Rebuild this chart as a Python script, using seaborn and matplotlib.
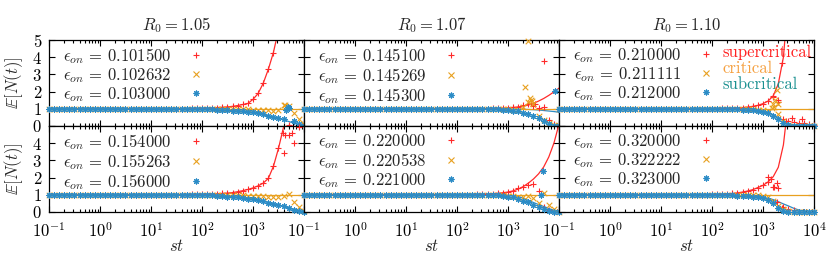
import numpy as np
import pandas as pd
import matplotlib
matplotlib.use("Agg")
import matplotlib.pyplot as plt
import seaborn as sns
from matplotlib.lines import Line2D
from matplotlib.ticker import FixedLocator, LogLocator, NullFormatter, FixedFormatter

nan = np.nan

# ---------------- data ----------------
TIME = [0.1, 0.126, 0.158, 0.2, 0.251, 0.316, 0.398, 0.501, 0.631, 0.794,
        1.0, 1.26, 1.58, 2.0, 2.51, 3.16, 3.98, 5.01, 6.31, 7.94,
        10.0, 12.6, 15.8, 20.0, 25.1, 31.6, 39.8, 50.1, 63.1, 79.4,
        100, 126, 158, 200, 251, 316, 398, 501, 631, 794,
        1000, 1259, 1585, 1995, 2512, 3162, 3981, 5012, 6310, 7943,
        10000]

R0_VALUES = ["1.05", "1.07", "1.10"]
EPS_TOP = [["0.101500", "0.102632", "0.103000"],
           ["0.145100", "0.145269", "0.145300"],
           ["0.210000", "0.211111", "0.212000"]]
EPS_BOTTOM = [["0.154000", "0.155263", "0.156000"],
              ["0.220000", "0.220538", "0.221000"],
              ["0.320000", "0.322222", "0.323000"]]
REGIME_LABELS = ["supercritical", "critical", "subcritical"]
XTICKS = [0.1, 1, 10, 100, 1000, 10000]
XTICK_LABELS = ["$10^{-1}$", "$10^{0}$", "$10^{1}$", "$10^{2}$", "$10^{3}$", "$10^{4}$"]
YTICKS = [0, 1, 2, 3, 4, 5]
YTICK_LABELS = ["$0$", "$1$", "$2$", "$3$", "$4$", "$5$"]

CRIT_FIT_T = [0.1, 10000]
CRIT_FIT_V = [1.0, 1.0]

# Panel A: R0=1.05, top
A_SUP = [1, 1, 1, 1, 1, 1, 1, 1, 1, 1,  1, 1, 1, 1, 1, 1, 1, 1, 1, 1,
         1, 1, 1, 1, 1, 1.0, 1.01, 1.01, 1.02, 1.02,
         1.03, 1.04, 1.05, 1.07, 1.09, 1.11, 1.14, 1.19, 1.25, 1.31,
         1.55, 1.89, 2.48, 3.29, 4.27, nan, nan, 0.05, nan, nan, nan]
A_SUP_FIT = [1, 1, 1, 1, 1, 1, 1, 1, 1, 1,  1, 1, 1, 1, 1, 1, 1, 1, 1, 1,
             1, 1, 1, 1, 1, 1.0, 1.01, 1.01, 1.02, 1.02,
             1.03, 1.04, 1.05, 1.07, 1.09, 1.11, 1.14, 1.19, 1.25, 1.31,
             1.55, 1.89, 2.48, 3.29, 4.27, 5.6, 7.5, nan, nan, nan, nan]
A_CRI = [1, 1, 1, 1, 1, 1, 1, 1, 1, 1,  1, 1, 1, 1, 1, 1, 1, 1, 1, 1,
         1, 1, 1, 1, 1, 1, 1, 1, 1, 1,
         1, 1, 1, 1, 1, 0.99, 0.99, 0.98, 0.97, 0.96,
         0.95, 0.94, 0.93, 0.91, 0.9, 0.92, 1.2, 1.15, 0.75, 0.4, 0.1]
A_SUB = [1, 1, 1, 1, 1, 1, 1, 1, 1, 1,  1, 1, 1, 1, 1, 1, 1, 1, 1, 1,
         1, 1, 1, 1, 1, 1.0, 0.995, 0.99, 0.99, 0.985,
         0.98, 0.97, 0.96, 0.95, 0.94, 0.92, 0.9, 0.88, 0.86, 0.83,
         0.8, 0.75, 0.68, 0.6, 0.52, 0.45, 0.38, 1.05, 0.3, 0.12, 0.02]
A_SUB_FIT = [1, 1, 1, 1, 1, 1, 1, 1, 1, 1,  1, 1, 1, 1, 1, 1, 1, 1, 1, 1,
             1, 1, 1, 1, 1, 1.0, 0.995, 0.99, 0.99, 0.985,
             0.974, 0.967, 0.96, 0.95, 0.94, 0.92, 0.9, 0.88, 0.85, 0.82,
             0.77, 0.72, 0.66, 0.59, 0.52, 0.45, 0.36, 0.26, 0.17, 0.08, 0.02]
A_CRI_EXTRA_T = [4169, 4571]
A_CRI_EXTRA_V = [1.22, 1.1]
A_SUB_EXTRA_T = [4786, 4365]
A_SUB_EXTRA_V = [1.1, 0.95]

# Panel B: R0=1.07, top
B_SUP = [1, 1, 1, 1, 1, 1, 1, 1, 1, 1,  1, 1, 1, 1, 1, 1, 1, 1, 1, 1,
         1, 1, 1, 1, 1, 1, 1, 1, 1, 1,
         1, 1, 1, 1, 1, 1.0, 1.01, 1.02, 1.03, 1.04,
         1.06, 1.08, 1.12, 1.2, 1.3, 1.15, 1.05, 1.1, 0.37, 0.1, 0.05]
B_SUP_FIT = [1, 1, 1, 1, 1, 1, 1, 1, 1, 1,  1, 1, 1, 1, 1, 1, 1, 1, 1, 1,
             1, 1, 1, 1, 1, 1, 1, 1, 1, 1,
             1, 1, 1, 1, 1, 1.01, 1.015, 1.02, 1.03, 1.04,
             1.06, 1.08, 1.11, 1.15, 1.22, 1.32, 1.45, 1.6, 1.78, 1.98, 2.2]
B_CRI = [1, 1, 1, 1, 1, 1, 1, 1, 1, 1,  1, 1, 1, 1, 1, 1, 1, 1, 1, 1,
         1, 1, 1, 1, 1, 1, 1, 1, 1, 1,
         1, 1, 1, 1, 1, 1, 1, 0.99, 0.98, 0.97,
         0.96, 0.95, 0.93, 1.1, 1.4, 1.3, 0.6, 0.35, 0.15, 0.05, 0.0]
B_SUB = [1, 1, 1, 1, 1, 1, 1, 1, 1, 1,  1, 1, 1, 1, 1, 1, 1, 1, 1, 1,
         1, 1, 1, 1, 1, 1, 1, 1, 1, 1,
         1, 1, 1, 1, 1, 1, 1, 0.99, 0.97, 0.95,
         0.93, 0.9, 0.85, 0.78, 0.7, 0.6, 0.45, 0.3, 0.12, 0.02, 0.0]
B_SUB_FIT = [1, 1, 1, 1, 1, 1, 1, 1, 1, 1,  1, 1, 1, 1, 1, 1, 1, 1, 1, 1,
             1, 1, 1, 1, 1, 1, 1, 1, 1, 1,
             1, 1, 1, 1, 1, 1, 1, 1, 0.995, 0.993,
             0.99, 0.985, 0.98, 0.97, 0.96, 0.95, 0.93, 0.9, 0.87, 0.84, 0.8]
B_SUP_EXTRA_T = [5129, 2818, 3311]
B_SUP_EXTRA_V = [3.76, 1.35, 1.25]
B_CRI_EXTRA_T = [2512, 2138, 2692, 2884, 3020]
B_CRI_EXTRA_V = [4.96, 2.25, 1.63, 1.5, 1.45]
B_SUB_EXTRA_T = [8318]
B_SUB_EXTRA_V = [2.05]

# Panel C: R0=1.10, top
C_SUP = [1, 1, 1, 1, 1, 1, 1, 1, 1, 1,  1, 1, 1, 1, 1, 1, 1, 1, 1, 1,
         1, 1, 1, 1, 1, 1, 1, 1, 1.005, 1.01,
         1.01, 1.01, 1.02, 1.03, 1.04, 1.05, 1.07, 1.1, 1.14, 1.2,
         1.3, 1.45, 1.7, 1.5, 0.4, 0.3, 0.25, 0.2, 0.15, 0.1, 0.05]
C_SUP_FIT = [1, 1, 1, 1, 1, 1, 1, 1, 1, 1,  1, 1, 1, 1, 1, 1, 1, 1, 1, 1,
             1, 1, 1, 1, 1, 1, 1, 1, 1.005, 1.01,
             1.01, 1.015, 1.02, 1.03, 1.04, 1.05, 1.07, 1.1, 1.14, 1.2,
             1.3, 1.45, 1.75, 2.45, 4.0, 7.5, nan, nan, nan, nan, nan]
C_CRI = [1, 1, 1, 1, 1, 1, 1, 1, 1, 1,  1, 1, 1, 1, 1, 1, 1, 1, 1, 1,
         1, 1, 1, 1, 1, 1, 1, 1, 1, 1,
         1, 1, 1, 1, 1, 1, 0.99, 0.98, 0.96, 0.94,
         0.92, 0.9, 1.25, 0.7, 0.3, 0.08, 0.0, 0.0, 0.0, 0.0, 0.0]
C_SUB = [1, 1, 1, 1, 1, 1, 1, 1, 1, 1,  1, 1, 1, 1, 1, 1, 1, 1, 1, 1,
         1, 1, 1, 1, 1, 1, 1, 1, 1, 0.995,
         0.99, 0.985, 0.98, 0.975, 0.97, 0.96, 0.95, 0.93, 0.91, 0.88,
         0.84, 0.75, 0.6, 0.38, 0.15, 0.04, 0.0, 0.0, 0.0, 0.0, 0.0]
C_SUB_FIT = [1, 1, 1, 1, 1, 1, 1, 1, 1, 1,  1, 1, 1, 1, 1, 1, 1, 1, 1, 1,
             1, 1, 1, 1, 1, 1, 1, 1, 1, 0.995,
             0.99, 0.985, 0.98, 0.975, 0.97, 0.96, 0.95, 0.93, 0.91, 0.89,
             0.86, 0.78, 0.66, 0.5, 0.3, 0.15, 0.05, 0.0, 0.0, 0.0, 0.0]
C_SUP_EXTRA_T = [2399, 1585, 1995, 2884, 3715, 5754]
C_SUP_EXTRA_V = [3.66, 1.72, 1.4, 0.27, 0.47, 0.4]
C_CRI_EXTRA_T = [1862, 1738, 1950, 1660, 1513]
C_CRI_EXTRA_V = [2.1, 1.5, 1.25, 1.1, 1.05]

# Panel D: R0=1.05, bottom
D_SUP = [1, 1, 1, 1, 1, 1, 1, 1, 1, 1,  1, 1, 1, 1, 1, 1, 1, 1, 1, 1,
         1, 1, 1, 1, 1, 1, 1.01, 1.01, 1.02, 1.02,
         1.03, 1.04, 1.05, 1.06, 1.08, 1.1, 1.13, 1.18, 1.24, 1.31,
         1.4, 1.52, 1.68, 1.95, 2.65, 3.7, 3.41, 4.5, 4.0, 4.95, nan]
D_SUP_FIT = [1, 1, 1, 1, 1, 1, 1, 1, 1, 1,  1, 1, 1, 1, 1, 1, 1, 1, 1, 1,
             1, 1, 1, 1, 1, 1, 1.01, 1.01, 1.02, 1.02,
             1.03, 1.04, 1.05, 1.06, 1.08, 1.1, 1.13, 1.18, 1.24, 1.31,
             1.4, 1.52, 1.68, 1.95, 2.65, 3.7, 4.95, 7.0, nan, nan, nan]
D_CRI = [1, 1, 1, 1, 1, 1, 1, 1, 1, 1,  1, 1, 1, 1, 1, 1, 1, 1, 1, 1,
         1, 1, 1, 1, 1, 1, 1, 1, 1, 1,
         1, 1, 1, 1, 1, 0.99, 0.98, 0.97, 0.96, 0.95,
         0.94, 0.93, 0.92, 0.9, 0.88, 0.85, 0.95, 1.05, 0.6, 0.3, 0.05]
D_SUB = [1, 1, 1, 1, 1, 1, 1, 1, 1, 1,  1, 1, 1, 1, 1, 1, 1, 1, 1, 1,
         1, 1, 1, 1, 1, 1, 1, 0.995, 0.99, 0.99,
         0.98, 0.97, 0.96, 0.94, 0.92, 0.9, 0.88, 0.85, 0.81, 0.77,
         0.73, 0.68, 0.62, 0.55, 0.47, 0.4, 0.33, 0.22, 0.1, 0.03, 0.0]
D_SUB_FIT = [1, 1, 1, 1, 1, 1, 1, 1, 1, 1,  1, 1, 1, 1, 1, 1, 1, 1, 1, 1,
             1, 1, 1, 1, 1, 1, 1, 0.995, 0.99, 0.99,
             0.98, 0.975, 0.965, 0.95, 0.93, 0.91, 0.89, 0.86, 0.82, 0.78,
             0.74, 0.69, 0.63, 0.56, 0.49, 0.41, 0.33, 0.24, 0.15, 0.07, 0.02]
D_SUP_EXTRA_T = [4266, 5754, 3890]
D_SUP_EXTRA_V = [4.48, 4.58, 4.6]

# Panel E: R0=1.07, bottom
E_SUP = [1, 1, 1, 1, 1, 1, 1, 1, 1, 1,  1, 1, 1, 1, 1, 1, 1, 1, 1, 1,
         1, 1, 1, 1, 1, 1, 1, 1, 1, 1,
         1, 1, 1, 1.01, 1.02, 1.03, 1.04, 1.05, 1.08, 1.1,
         1.15, 1.25, 1.4, 1.44, 1.55, 1.6, 1.2, 0.3, 0.1, 0.0, 0.0]
E_SUP_FIT = [1, 1, 1, 1, 1, 1, 1, 1, 1, 1,  1, 1, 1, 1, 1, 1, 1, 1, 1, 1,
             1, 1, 1, 1, 1, 1, 1, 1, 1, 1,
             1.01, 1.01, 1.02, 1.02, 1.03, 1.04, 1.05, 1.07, 1.09, 1.12,
             1.16, 1.23, 1.33, 1.48, 1.68, 1.92, 2.22, 2.62, 3.2, 4.0, 5.1]
E_CRI = [1, 1, 1, 1, 1, 1, 1, 1, 1, 1,  1, 1, 1, 1, 1, 1, 1, 1, 1, 1,
         1, 1, 1, 1, 1, 1, 1, 1, 1, 1,
         1, 1, 1, 1, 1, 1, 0.99, 0.99, 0.98, 0.97,
         0.95, 0.93, 0.9, 0.85, 0.95, 0.8, 0.55, 1.1, 0.4, 0.15, 0.0]
E_SUB = [1, 1, 1, 1, 1, 1, 1, 1, 1, 1,  1, 1, 1, 1, 1, 1, 1, 1, 1, 1,
         1, 1, 1, 1, 1, 1, 1, 1, 1, 1,
         1, 1, 1, 1, 0.995, 0.99, 0.985, 0.98, 0.96, 0.94,
         0.9, 0.85, 0.75, 0.64, 0.56, 0.4, 0.27, 0.15, 0.05, 0.0, 0.0]
E_SUB_FIT = [1, 1, 1, 1, 1, 1, 1, 1, 1, 1,  1, 1, 1, 1, 1, 1, 1, 1, 1, 1,
             1, 1, 1, 1, 1, 1, 1, 1, 1, 1,
             1, 1, 1, 1, 1, 0.995, 0.99, 0.985, 0.98, 0.975,
             0.97, 0.95, 0.9, 0.8, 0.68, 0.55, 0.43, 0.32, 0.2, 0.1, 0.03]
E_SUB_EXTRA_T = [4898, 4467]
E_SUB_EXTRA_V = [2.4, 1.0]

# Panel F: R0=1.10, bottom
F_SUP = [1, 1, 1, 1, 1, 1, 1, 1, 1, 1,  1, 1, 1, 1, 1, 1, 1, 1, 1, 1,
         1, 1, 1, 1, 1, 1, 1, 1.01, 1.01, 1.01,
         1.02, 1.03, 1.04, 1.06, 1.08, 1.11, 1.16, 1.22, 1.3, 1.42,
         1.55, 1.75, 1.45, 1.38, 0.31, 0.2, 0.1, 0.0, 0.0, 0.0, 0.0]
F_SUP_FIT = [1, 1, 1, 1, 1, 1, 1, 1, 1, 1,  1, 1, 1, 1, 1, 1, 1, 1, 1, 1,
             1, 1, 1, 1, 1, 1, 1, 1.01, 1.01, 1.01,
             1.02, 1.03, 1.04, 1.06, 1.08, 1.11, 1.16, 1.22, 1.3, 1.42,
             1.55, 1.75, 2.05, 2.6, 3.9, 6.5, nan, nan, nan, nan, nan]
F_CRI = [1, 1, 1, 1, 1, 1, 1, 1, 1, 1,  1, 1, 1, 1, 1, 1, 1, 1, 1, 1,
         1, 1, 1, 1, 1, 1, 1, 1, 1, 1,
         1, 1, 1, 1, 1, 0.99, 0.99, 0.98, 0.97, 0.96,
         0.95, 0.9, 0.65, 0.35, 0.15, 0.03, 0.0, 0.0, 0.0, 0.0, 0.0]
F_SUB = [1, 1, 1, 1, 1, 1, 1, 1, 1, 1,  1, 1, 1, 1, 1, 1, 1, 1, 1, 1,
         1, 1, 1, 1, 1, 1, 1, 1, 0.995, 0.99,
         0.99, 0.985, 0.98, 0.97, 0.96, 0.95, 0.94, 0.92, 0.9, 0.87,
         0.82, 0.72, 0.5, 0.25, 0.08, 0.01, 0.0, 0.0, 0.0, 0.0, 0.0]
F_SUB_FIT = [1, 1, 1, 1, 1, 1, 1, 1, 1, 1,  1, 1, 1, 1, 1, 1, 1, 1, 1, 1,
             1, 1, 1, 1, 1, 1, 1, 1, 0.995, 0.99,
             0.99, 0.985, 0.98, 0.975, 0.97, 0.97, 0.95, 0.94, 0.92, 0.89,
             0.86, 0.8, 0.72, 0.6, 0.47, 0.35, 0.22, 0.12, 0.05, nan, nan]
F_SUP_EXTRA_T = [1259, 1862, 1660, 1862, 2344, 1445]
F_SUP_EXTRA_V = [2.05, 1.67, 1.47, 0.6, 0.21, 1.9]

# ---------------- style ----------------
sns.set_style("ticks")
plt.rcParams.update({
    "mathtext.fontset": "cm",
    "font.family": ["cmr10", "DejaVu Sans"],
    "axes.formatter.use_mathtext": True,
    "axes.linewidth": 0.9,
    "axes.edgecolor": "black",
    "xtick.direction": "in",
    "ytick.direction": "in",
    "xtick.color": "black",
    "ytick.color": "black",
})

FS = 12
RED = "#ff2a2a"
ORANGE = "#e8a020"
BLUE = "#2c8cc6"
TEXT_COLORS = ["#ff2020", "#f5a040", "#1a9090"]
MARKERS = ["+", "x", (8, 2, 0)]
SIZES = [20, 16, 14]
COLORS = [RED, ORANGE, BLUE]

fig = plt.figure(figsize=(8.3, 2.66), dpi=100)
W, H = 830.0, 266.0
lefts = [49, 304, 559]
pw = 255
tops = [40, 126]
ph = 86

panels = [
    (0, 0, A_SUP, A_CRI, A_SUB, A_SUP_FIT, A_SUB_FIT,
     [([], []), (A_CRI_EXTRA_T, A_CRI_EXTRA_V), (A_SUB_EXTRA_T, A_SUB_EXTRA_V)]),
    (0, 1, B_SUP, B_CRI, B_SUB, B_SUP_FIT, B_SUB_FIT,
     [(B_SUP_EXTRA_T, B_SUP_EXTRA_V), (B_CRI_EXTRA_T, B_CRI_EXTRA_V), (B_SUB_EXTRA_T, B_SUB_EXTRA_V)]),
    (0, 2, C_SUP, C_CRI, C_SUB, C_SUP_FIT, C_SUB_FIT,
     [(C_SUP_EXTRA_T, C_SUP_EXTRA_V), (C_CRI_EXTRA_T, C_CRI_EXTRA_V), ([], [])]),
    (1, 0, D_SUP, D_CRI, D_SUB, D_SUP_FIT, D_SUB_FIT,
     [(D_SUP_EXTRA_T, D_SUP_EXTRA_V), ([], []), ([], [])]),
    (1, 1, E_SUP, E_CRI, E_SUB, E_SUP_FIT, E_SUB_FIT,
     [([], []), ([], []), (E_SUB_EXTRA_T, E_SUB_EXTRA_V)]),
    (1, 2, F_SUP, F_CRI, F_SUB, F_SUP_FIT, F_SUB_FIT,
     [(F_SUP_EXTRA_T, F_SUP_EXTRA_V), ([], []), ([], [])]),
]

for row, col, sup, cri, sub, sup_fit, sub_fit, extras in panels:
    rect = [lefts[col] / W, 1 - (tops[row] + ph) / H, pw / W, ph / H]
    ax = fig.add_axes(rect)
    ax.set_xscale("log")

    # theory lines
    for vals, c in [(sup_fit, RED), (sub_fit, BLUE)]:
        df = pd.DataFrame({"t": TIME, "v": vals}).dropna()
        sns.lineplot(data=df, x="t", y="v", color=c, lw=0.9, ax=ax,
                     estimator=None, sort=False, zorder=2)
    sns.lineplot(x=CRIT_FIT_T, y=CRIT_FIT_V, color=ORANGE, lw=0.9, ax=ax,
                 estimator=None, sort=False, zorder=2)

    # simulation points
    for k, (vals, c, m, sz) in enumerate(zip([sup, cri, sub], COLORS, MARKERS, SIZES)):
        df = pd.DataFrame({"t": TIME, "v": vals}).dropna()
        et, ev = extras[k]
        if len(et):
            df = pd.concat([df, pd.DataFrame({"t": et, "v": ev})])
        sns.scatterplot(data=df, x="t", y="v", marker=m, color=c, s=sz,
                        linewidth=0.8, ax=ax, clip_on=False, zorder=3 + k)

    ax.set_xlim(0.1, 1e4)
    ax.set_ylim(0, 5)
    ax.set_xlabel("")
    ax.set_ylabel("")

    ax.xaxis.set_major_locator(FixedLocator(XTICKS))
    ax.xaxis.set_minor_locator(LogLocator(base=10, subs=np.arange(2, 10), numticks=20))
    ax.xaxis.set_minor_formatter(NullFormatter())
    ax.yaxis.set_major_locator(FixedLocator(YTICKS))
    ax.tick_params(which="both", top=True, right=True, direction="in", width=0.8)
    ax.tick_params(which="major", length=4.5, labelsize=FS, pad=5)
    ax.tick_params(axis="x", which="major", pad=6.5)
    ax.tick_params(which="minor", length=2.3)

    if row == 1:
        labs = list(XTICK_LABELS)
        if col < 2:
            labs[-1] = ""
        ax.xaxis.set_major_formatter(FixedFormatter(labs))
        ax.set_xlabel("$st$", fontsize=FS)
        ax.xaxis.set_label_coords(0.5, -0.30)
    else:
        ax.tick_params(axis="x", labelbottom=False)
        ax.set_title(f"$R_0 = {R0_VALUES[col]}$", fontsize=FS, pad=7)

    if col == 0:
        ylabs = list(YTICK_LABELS)
        if row == 1:
            ylabs[-1] = ""
        ax.yaxis.set_major_formatter(FixedFormatter(ylabs))
        ax.set_ylabel(r"$\mathbb{E}[N(t)]$", fontsize=FS)
        ax.yaxis.set_label_coords(-0.094, 0.5)
    else:
        ax.tick_params(axis="y", labelleft=False)

    for s in ax.spines.values():
        s.set_color("black")
        s.set_linewidth(0.9)

    eps = (EPS_TOP if row == 0 else EPS_BOTTOM)[col]
    handles = [Line2D([], [], ls="none", marker=m, color=c, markersize=4.2, mew=0.8)
               for m, c in zip(MARKERS, COLORS)]
    labels = [rf"$\epsilon_{{on}}\,=\,{e}$" for e in eps]
    ax.legend(handles, labels, loc="upper left", bbox_to_anchor=(14 / pw, 1 - 6 / ph),
              frameon=False, markerfirst=False, handlelength=1.0, handletextpad=1.0,
              labelspacing=0.0, borderaxespad=0, borderpad=0, fontsize=FS)

    if row == 0 and col == 2:
        for lab, tc, yf in zip(REGIME_LABELS, TEXT_COLORS, [0.855, 0.675, 0.49]):
            ax.text(0.643, yf, lab, color=tc, transform=ax.transAxes, va="center",
                    ha="left", fontsize=FS, family="cmr10")

fig.savefig("out.png", dpi=100)
